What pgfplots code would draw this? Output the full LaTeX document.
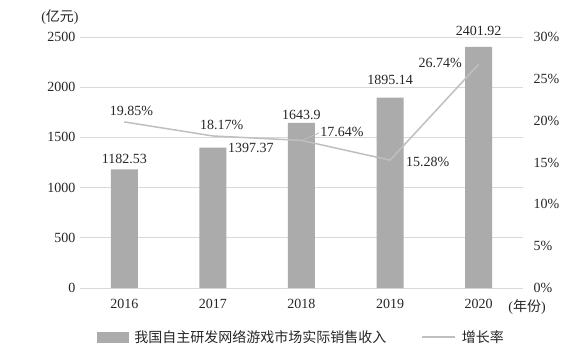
\documentclass[border=0pt]{standalone}
\usepackage{pgfplots}
\pgfplotsset{compat=1.18}
\usepackage{fontspec}
\setmainfont{Liberation Serif}
\newfontfamily\cjk{Noto Sans CJK SC}
\definecolor{barc}{HTML}{ABABAB}
\definecolor{linec}{HTML}{BFBFBF}
\definecolor{gridc}{HTML}{D9D9D9}
\definecolor{txtc}{HTML}{262626}
\begin{document}
\begin{tikzpicture}[font=\fontsize{14}{16}\selectfont, text=txtc]
\useasboundingbox (-80pt,-65pt) rectangle (490pt,288pt);
\pgfplotsset{
  common/.style={
    at={(0pt,0pt)}, anchor=south west, scale only axis,
    width=443pt, height=251pt,
    xmin=-0.5, xmax=4.5,
    axis line style={draw=none},
    major tick length=0pt,
    clip=false,
    /pgf/number format/assume math mode=true,
    /pgf/number format/1000 sep={},
    tick label style={font=\fontsize{14}{16}\selectfont, text=txtc},
  }
}
\begin{axis}[common,
  ymin=0, ymax=2500, ytick={0,500,...,2500},
  xtick={0,1,2,3,4}, xticklabels={2016,2017,2018,2019,2020},
  xticklabel style={yshift=-8pt},
  yticklabel style={xshift=-1pt},
  ymajorgrids, grid style={gridc, line width=0.8pt},
]
\addplot[ybar, bar width=27pt, fill=barc, draw=none] coordinates {(0,1182.53) (1,1397.37) (2,1643.9) (3,1895.14) (4,2401.92)};
\node at (axis cs:0,1285) {1182.53};
\node[anchor=west, inner sep=0pt] at (axis cs:1.17,1394) {1397.37};
\node at (axis cs:2,1723) {1643.9};
\node at (axis cs:3,2072) {1895.14};
\node at (axis cs:4,2560) {2401.92};
\end{axis}
\begin{axis}[common,
  ymin=0, ymax=30, ytick={0,5,...,30},
  axis y line*=right, axis x line=none,
  yticklabel={\pgfmathprintnumber{\tick}\%},
  yticklabel style={anchor=west, xshift=7pt},
  legend style={at={(0.5,-0.195)}, anchor=center, draw=none, fill=none,
    legend columns=2, font=\cjk\fontsize{14}{16}\selectfont,
    /tikz/every odd column/.append style={column sep=4pt},
    /tikz/every even column/.append style={column sep=33pt}},
  legend cell align=left,
]
\addlegendimage{legend image code/.code={\fill[barc] (0pt,-5pt) rectangle (31pt,5pt);}}
\addlegendentry{我国自主研发网络游戏市场实际销售收入}
\addplot[linec, line width=1.5pt, legend image code/.code={\draw[linec, line width=1.5pt] (0pt,0pt) -- (33pt,0pt);}] coordinates {(0,19.85) (1,18.17) (2,17.64) (3,15.28) (4,26.74)};
\addlegendentry{增长率}
\draw[linec, line width=0.8pt] (axis cs:2.02,17.7) -- (axis cs:2.2,18.55);
\node at (axis cs:0.08,21.15) {19.85\%};
\node at (axis cs:1.1,19.48) {18.17\%};
\node[anchor=west, inner sep=0pt] at (axis cs:2.21,18.65) {17.64\%};
\node[anchor=west, inner sep=0pt] at (axis cs:3.18,15.06) {15.28\%};
\node[anchor=east, inner sep=0pt] at (axis cs:3.81,26.9) {26.74\%};
\end{axis}
\node at (447pt,-19pt) {({\cjk 年份})};
\node at (-20pt,271pt) {({\cjk 亿元})};
\end{tikzpicture}
\end{document}
